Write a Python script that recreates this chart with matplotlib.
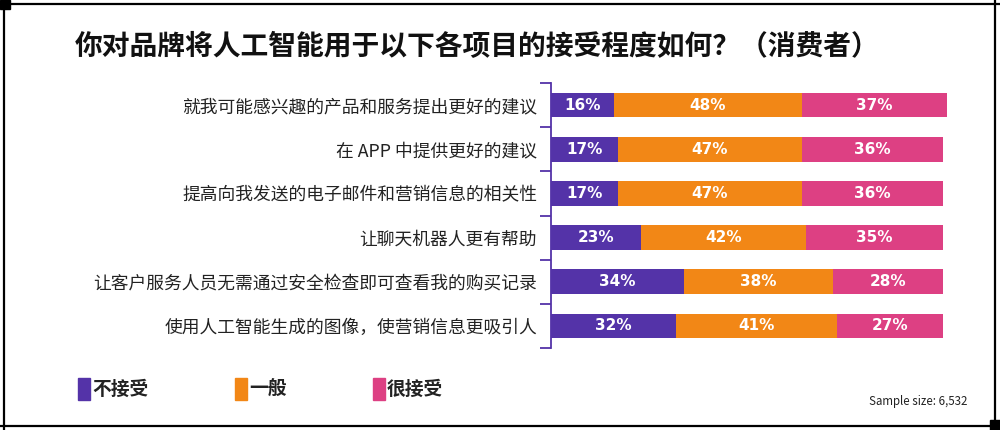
import matplotlib
matplotlib.use("Agg")
import matplotlib.pyplot as plt
from matplotlib.patches import Rectangle
from matplotlib.lines import Line2D
import numpy as np

plt.rcParams['font.family'] = ['Noto Sans CJK SC', 'DejaVu Sans']

title = "你对品牌将人工智能用于以下各项目的接受程度如何？（消费者）"
categories = [
    "就我可能感兴趣的产品和服务提出更好的建议",
    "在 APP 中提供更好的建议",
    "提高向我发送的电子邮件和营销信息的相关性",
    "让聊天机器人更有帮助",
    "让客户服务人员无需通过安全检查即可查看我的购买记录",
    "使用人工智能生成的图像，使营销信息更吸引人",
]
not_accept = [16, 17, 17, 23, 34, 32]
neutral = [48, 47, 47, 42, 38, 41]
very_accept = [37, 36, 36, 35, 28, 27]
series_names = ["不接受", "一般", "很接受"]
colors = ["#5433A8", "#F28716", "#DD4083"]
sample_note = "Sample size: 6,532"

W, H = 1000, 430
fig = plt.figure(figsize=(10, 4.3), dpi=100)

def fx(px):
    return px / W

def fy(py):
    return 1 - py / H

ax_l, ax_r, ax_t, ax_b = 551, 946, 83, 348
ax = fig.add_axes([fx(ax_l), fy(ax_b), fx(ax_r - ax_l), (ax_b - ax_t) / H])

n = len(categories)
y = np.arange(n)
left = np.zeros(n)
for vals, col in zip([not_accept, neutral, very_accept], colors):
    vals = np.array(vals, dtype=float)
    ax.barh(y, vals, left=left, height=0.56, color=col, clip_on=False,
            edgecolor='none')
    for yi, l, v in zip(y, left, vals):
        ax.text(l + v / 2, yi, f"{int(v)}%", ha='center', va='center',
                color='white', fontsize=11, fontweight='bold',
                family=['DejaVu Sans'])
    left = left + vals

ax.set_xlim(0, 100.8)
ax.set_ylim(n - 0.5, -0.5)

for s in ['top', 'right', 'bottom']:
    ax.spines[s].set_visible(False)
ax.spines['left'].set_color('#5433A8')
ax.spines['left'].set_linewidth(1.3)
ax.set_xticks([])
ax.set_yticks(np.arange(n + 1) - 0.5)
ax.set_yticklabels([])
ax.tick_params(axis='y', which='major', length=8, width=1.3, color='#5433A8')
ax.set_yticks(y, minor=True)
ax.set_yticklabels(categories, minor=True, fontsize=12.8, color='#222222')
ax.tick_params(axis='y', which='minor', length=0, pad=10)

# Title
fig.text(fx(75), fy(47), title, fontsize=20, fontweight='bold', ha='left',
         va='center', color='#111111')

# Legend
leg_x = [78, 235, 373]
for lx, name, col in zip(leg_x, series_names, colors):
    fig.patches.append(Rectangle((fx(lx), fy(400)), fx(12), 22 / H,
                                 transform=fig.transFigure, color=col))
    fig.text(fx(lx + 14), fy(389), name, fontsize=13.5, fontweight='bold',
             ha='left', va='center', color='#222222')

fig.text(fx(967), fy(402), sample_note, fontsize=8.3, ha='right', va='center',
         color='#222222')

# Frame
fr = dict(transform=fig.transFigure, color='black', linewidth=1.6)
fig.lines.append(Line2D([0, 1], [fy(4), fy(4)], **fr))
fig.lines.append(Line2D([0, 1], [fy(426), fy(426)], **fr))
fig.lines.append(Line2D([fx(4), fx(4)], [0, 1], **fr))
fig.lines.append(Line2D([fx(995), fx(995)], [0, 1], **fr))
fig.patches.append(Rectangle((0, fy(9)), fx(10), 9 / H, transform=fig.transFigure, color='black'))
fig.patches.append(Rectangle((fx(990), 0), fx(10), 10 / H, transform=fig.transFigure, color='black'))

fig.savefig("out.png", dpi=100)
